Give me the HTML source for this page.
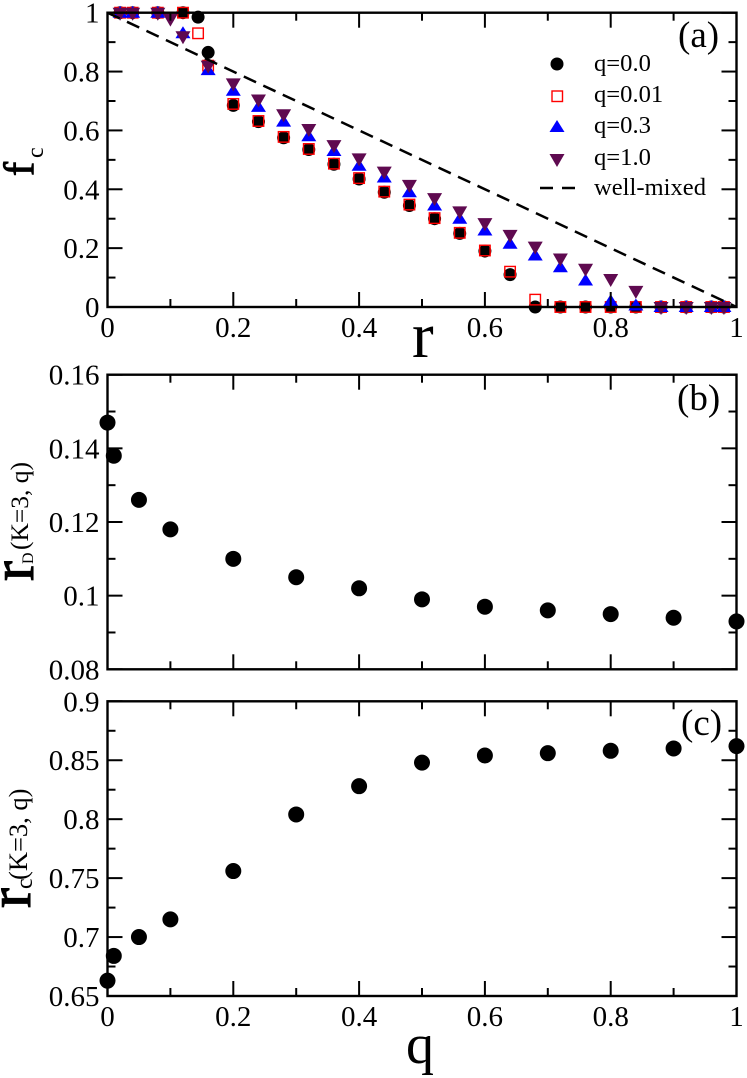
<!DOCTYPE html>
<html>
<head>
<meta charset="utf-8">
<title>Cooperation fraction chart</title>
<style>
html,body{margin:0;padding:0;background:#fff;}
svg{display:block;}
text{font-family:"Liberation Serif",serif;fill:#000;}
</style>
</head>
<body>
<svg id="chart" xmlns="http://www.w3.org/2000/svg" width="747" height="1078" viewBox="0 0 747 1078">
<g id="series-layer"></g>
<g id="axes-layer"></g>

<text x="412" y="357" font-size="65">r</text>
<text x="406" y="1063" font-size="56">q</text>

<g transform="translate(33,176) rotate(-90)">
<text x="0" y="0" font-size="42" stroke="#000" stroke-width="1.1">f</text>
<text x="18" y="10" font-size="24">c</text>
</g>
<g transform="translate(33,581) rotate(-90)">
<text x="0" y="0" font-size="60" stroke="#000" stroke-width="1.1">r</text>
<text x="17" y="0" font-size="16">D</text>
<text x="31" y="-5" font-size="25.5">(K=3, q)</text>
</g>
<g transform="translate(30,908) rotate(-90)">
<text x="0" y="0" font-size="60" stroke="#000" stroke-width="1.1">r</text>
<text x="19" y="2" font-size="24">c</text>
<text x="28" y="-3" font-size="26.5">(K=3, q)</text>
</g>

<text x="678" y="47" font-size="37">(a)</text>
<text x="677" y="410" font-size="37">(b)</text>
<text x="681" y="735" font-size="37">(c)</text>

<g>
<g>
<circle cx="557" cy="64" r="6.5" fill="#000"></circle>
<text x="594" y="71" font-size="24.6">q=0.0</text>
</g>
<g>
<rect x="552" y="91" width="10.5" height="10.5" fill="none" stroke="#ff0000" stroke-width="1.4"></rect>
<text x="594" y="102" font-size="24.6">q=0.01</text>
</g>
<g>
<polygon points="557,120 564.5,132 549.5,132" fill="#0000ff"></polygon>
<text x="594" y="133" font-size="24.6">q=0.3</text>
</g>
<g>
<polygon points="549.5,154 564.5,154 557,167" fill="#5f0a50"></polygon>
<text x="594" y="165" font-size="24.6">q=1.0</text>
</g>
<g>
<line x1="540" y1="188" x2="575" y2="188" stroke="#000" stroke-width="2.5" stroke-dasharray="13 9"></line>
<text x="594" y="195" font-size="24.6">well-mixed</text>
</g>
</g>
</svg>

<script>
// Panel (a) data
const rValuesQ0 = [0.02,0.04,0.08,0.12,0.144,0.16,0.2,0.24,0.28,0.32,0.36,0.4,0.44,0.48,0.52,0.56,0.6,0.64,0.68,0.72,0.76,0.8,0.84,0.88,0.92,0.96,0.98];
const fcQ0 = [1,1,1,1,0.985,0.865,0.685,0.63,0.575,0.535,0.485,0.435,0.39,0.345,0.3,0.25,0.19,0.11,0,0,0,0,0,0,0,0,0];
const rValuesQ001 = [0.02,0.04,0.08,0.12,0.144,0.16,0.2,0.24,0.28,0.32,0.36,0.4,0.44,0.48,0.52,0.56,0.6,0.64,0.68,0.72,0.76,0.8,0.84,0.88,0.92,0.96,0.98];
const fcQ001 = [1,1,1,1,0.93,0.82,0.69,0.632,0.578,0.537,0.487,0.438,0.392,0.348,0.302,0.252,0.192,0.12,0.025,0,0,0,0,0,0,0,0];
const rValuesQ03 = [0.02,0.04,0.08,0.12,0.16,0.2,0.24,0.28,0.32,0.36,0.4,0.44,0.48,0.52,0.56,0.6,0.64,0.68,0.72,0.76,0.8,0.84,0.88,0.92,0.96,0.98];
const fcQ03 = [1,1,1,0.93,0.805,0.735,0.68,0.63,0.58,0.53,0.48,0.44,0.39,0.345,0.3,0.26,0.215,0.175,0.135,0.09,0.02,0.005,0,0,0,0];
const rValuesQ10 = [0.02,0.04,0.08,0.1,0.12,0.16,0.2,0.24,0.28,0.32,0.36,0.4,0.44,0.48,0.52,0.56,0.6,0.64,0.68,0.72,0.76,0.8,0.84,0.88,0.92,0.96,0.98];
const fcQ10 = [1,1,1,0.98,0.92,0.82,0.76,0.705,0.655,0.605,0.55,0.505,0.46,0.415,0.37,0.325,0.285,0.245,0.205,0.165,0.13,0.095,0.055,0,0,0,0];
const wellMixedR = [0,1];
const wellMixedF = [1,0];

// Panels (b) and (c) data
const qValues = [0,0.01,0.05,0.1,0.2,0.3,0.4,0.5,0.6,0.7,0.8,0.9,1];
const rDValues = [0.147,0.138,0.126,0.118,0.11,0.105,0.102,0.099,0.097,0.096,0.095,0.094,0.093];
const rCValues = [0.663,0.684,0.7,0.715,0.756,0.804,0.828,0.848,0.854,0.856,0.858,0.86,0.862];

// Tick definitions
const xMajorTicks = [0,0.2,0.4,0.6,0.8,1];
const xMajorLabels = ["0","0.2","0.4","0.6","0.8","1"];
const xMinorTicks = [0.1,0.3,0.5,0.7,0.9];
const aYMajorTicks = [0,0.2,0.4,0.6,0.8,1];
const aYMajorLabels = ["0","0.2","0.4","0.6","0.8","1"];
const aYMinorTicks = [0.1,0.3,0.5,0.7,0.9];
const bYMajorTicks = [0.08,0.1,0.12,0.14,0.16];
const bYMajorLabels = ["0.08","0.1","0.12","0.14","0.16"];
const bYMinorTicks = [0.09,0.11,0.13,0.15];
const cYMajorTicks = [0.65,0.7,0.75,0.8,0.85,0.9];
const cYMajorLabels = ["0.65","0.7","0.75","0.8","0.85","0.9"];
const cYMinorTicks = [0.675,0.725,0.775,0.825,0.875];

const SVG_NS = "http://www.w3.org/2000/svg";
const seriesLayer = document.getElementById("series-layer");
const axesLayer = document.getElementById("axes-layer");
const LEFT = 107.5, RIGHT = 736.5;

function make(tag, attrs, parent) {
  const el = document.createElementNS(SVG_NS, tag);
  for (const k in attrs) el.setAttribute(k, attrs[k]);
  parent.appendChild(el);
  return el;
}
function xScale(v) { return LEFT + v * (RIGHT - LEFT); }
function yScaleFor(top, bottom, lo, hi) {
  return function (v) { return bottom - (v - lo) / (hi - lo) * (bottom - top); };
}

function drawAxes(name, top, bottom, yScale, yMajor, yLabels, yMinor, showXLabels) {
  const g = make("g", {}, axesLayer);
  
  
  const frame = make("rect", {x: LEFT, y: top, width: RIGHT - LEFT, height: bottom - top, fill: "none", stroke: "#000", "stroke-width": 2.4}, g);
  
  
  xMajorTicks.forEach(function (v, i) {
    const x = xScale(v);
    const b = make("line", {x1: x, x2: x, y1: bottom, y2: bottom - 15, stroke: "#000", "stroke-width": 2}, g);
    
    
    const t = make("line", {x1: x, x2: x, y1: top, y2: top + 15, stroke: "#000", "stroke-width": 2}, g);
    
    
    if (showXLabels) {
      const lab = make("text", {x: x, y: bottom + 30, "font-size": 29, "text-anchor": "middle"}, g);
      lab.textContent = xMajorLabels[i];
      
      
    }
  });
  xMinorTicks.forEach(function (v) {
    const x = xScale(v);
    const b = make("line", {x1: x, x2: x, y1: bottom, y2: bottom - 8, stroke: "#000", "stroke-width": 2}, g);
    
    
    const t = make("line", {x1: x, x2: x, y1: top, y2: top + 8, stroke: "#000", "stroke-width": 2}, g);
    
    
  });
  yMajor.forEach(function (v, i) {
    const y = yScale(v);
    const l = make("line", {x1: LEFT, x2: LEFT + 15, y1: y, y2: y, stroke: "#000", "stroke-width": 2}, g);
    
    
    const r = make("line", {x1: RIGHT, x2: RIGHT - 15, y1: y, y2: y, stroke: "#000", "stroke-width": 2}, g);
    
    
    const lab = make("text", {x: 99.5, y: y + 10, "font-size": 29, "text-anchor": "end"}, g);
    lab.textContent = yLabels[i];
    
    
  });
  yMinor.forEach(function (v) {
    const y = yScale(v);
    const l = make("line", {x1: LEFT, x2: LEFT + 8, y1: y, y2: y, stroke: "#000", "stroke-width": 2}, g);
    
    
    const r = make("line", {x1: RIGHT, x2: RIGHT - 8, y1: y, y2: y, stroke: "#000", "stroke-width": 2}, g);
    
    
  });
}

const yA = yScaleFor(12.7, 307, 0, 1);
const yB = yScaleFor(374.7, 669.3, 0.08, 0.16);
const yC = yScaleFor(701.3, 996, 0.65, 0.9);

// Panel (a) series
const groupQ0 = make("g", {fill: "#000"}, seriesLayer);


rValuesQ0.forEach(function (r, i) {
  const c = make("circle", {cx: xScale(r), cy: yA(fcQ0[i]), r: 6.5}, groupQ0);
  
  
});

const groupQ001 = make("g", {fill: "none", stroke: "#ff0000", "stroke-width": 1.4}, seriesLayer);


rValuesQ001.forEach(function (r, i) {
  const s = make("rect", {x: xScale(r) - 5.25, y: yA(fcQ001[i]) - 5.25, width: 10.5, height: 10.5}, groupQ001);
  
  
});

const groupQ03 = make("g", {fill: "#0000ff"}, seriesLayer);


rValuesQ03.forEach(function (r, i) {
  const x = xScale(r), y = yA(fcQ03[i]);
  const p = make("polygon", {points: x + "," + (y - 7) + " " + (x + 7.5) + "," + (y + 5) + " " + (x - 7.5) + "," + (y + 5)}, groupQ03);
  
  
});

const groupQ10 = make("g", {fill: "#5f0a50"}, seriesLayer);


rValuesQ10.forEach(function (r, i) {
  const x = xScale(r), y = yA(fcQ10[i]);
  const p = make("polygon", {points: (x - 7.5) + "," + (y - 5) + " " + (x + 7.5) + "," + (y - 5) + " " + x + "," + (y + 8)}, groupQ10);
  
  
});

const wmLine = make("line", {
  x1: xScale(wellMixedR[0]), y1: yA(wellMixedF[0]),
  x2: xScale(wellMixedR[1]), y2: yA(wellMixedF[1]),
  stroke: "#000", "stroke-width": 2.5, "stroke-dasharray": "13.5 8"
}, seriesLayer);



// Panel (b) series
const groupB = make("g", {fill: "#000"}, seriesLayer);


qValues.forEach(function (q, i) {
  const c = make("circle", {cx: xScale(q), cy: yB(rDValues[i]), r: 8}, groupB);
  
  
});

// Panel (c) series
const groupC = make("g", {fill: "#000"}, seriesLayer);


qValues.forEach(function (q, i) {
  const c = make("circle", {cx: xScale(q), cy: yC(rCValues[i]), r: 8}, groupC);
  
  
});

drawAxes("panel-a", 12.7, 307, yA, aYMajorTicks, aYMajorLabels, aYMinorTicks, true);
drawAxes("panel-b", 374.7, 669.3, yB, bYMajorTicks, bYMajorLabels, bYMinorTicks, false);
drawAxes("panel-c", 701.3, 996, yC, cYMajorTicks, cYMajorLabels, cYMinorTicks, true);
</script>
</body>
</html>
